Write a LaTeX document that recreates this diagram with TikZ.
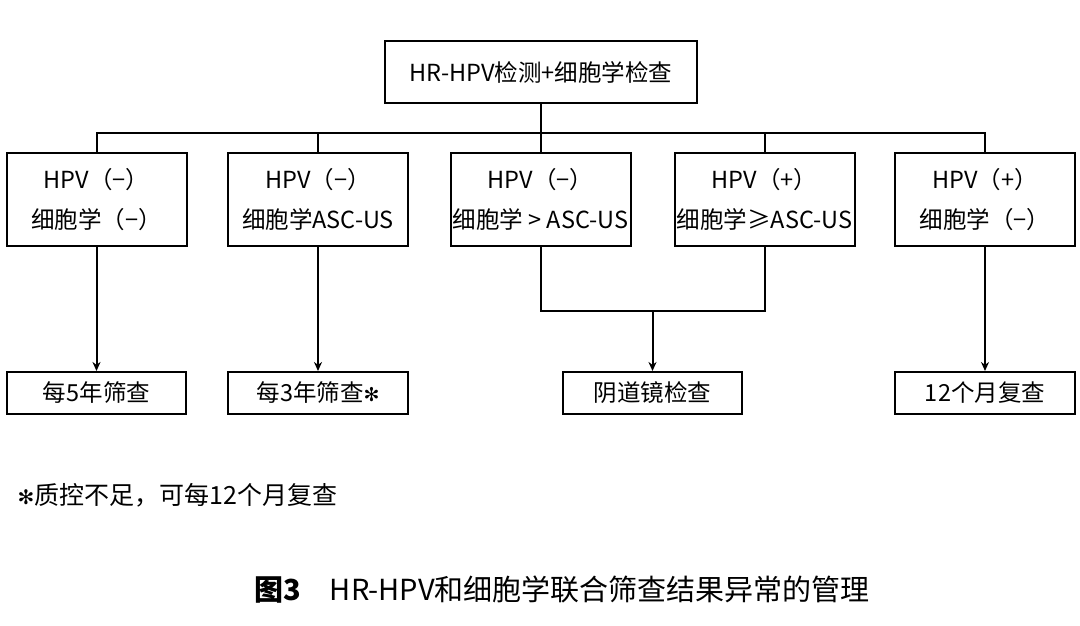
\documentclass[tikz,border=0pt]{standalone}
\usepackage{fontspec}
\setmainfont{Noto Sans CJK SC}
\newfontfamily\symf{DejaVu Sans}
\usetikzlibrary{arrows.meta}
\begin{document}
\begin{tikzpicture}[x=1pt,y=-1pt,
  bx/.style={draw,line width=2pt,inner sep=0pt,align=center,font=\fontsize{23.5}{40}\selectfont},
  ln/.style={line width=2pt},
  ar/.style={line width=2pt,-{Stealth[length=9pt,width=8pt]}}]
\useasboundingbox (0,0) rectangle (1080,626);
\node[bx,minimum width=312pt,minimum height=62pt] (top) at (541,72) {HR-HPV检测+细胞学检查};
\foreach \n/\x/\t in {b1/96.5/{HPV（−）\\细胞学（−）},b2/318/{HPV（−）\\细胞学ASC-US},b3/540.5/{HPV（−）\\细胞学 > ASC-US},b4/764.5/{HPV（+）\\细胞学≥ASC-US},b5/985/{HPV（+）\\细胞学（−）}}
  \node[bx,minimum width=180pt,minimum height=93pt] (\n) at (\x,199.5) {\t};
\node[bx,minimum width=179pt,minimum height=42pt] (c1) at (96.5,393) {每5年筛查};
\node[bx,minimum width=180pt,minimum height=42pt] (c2) at (318,393) {每3年筛查{\symf\fontsize{19}{20}\selectfont ✻}};
\node[bx,minimum width=179pt,minimum height=42pt] (c3) at (652.5,393) {阴道镜检查};
\node[bx,minimum width=180pt,minimum height=42pt] (c5) at (985,393) {12个月复查};
\coordinate (bus) at (541,133);
\draw[ln] (top.south) -- (bus);
\draw[ln] (b1.north) |- (bus) -| (b5.north);
\draw[ln] (b2.north) -- (b2.north |- bus);
\draw[ln] (b3.north) -- (b3.north |- bus);
\draw[ln] (b4.north) -- (b4.north |- bus);
\draw[ar] (b1.south) -- (c1.north);
\draw[ar] (b2.south) -- (c2.north);
\draw[ar] (b5.south) -- (c5.north);
\coordinate (j) at (652.5,311);
\draw[ln] (b3.south) |- (j) -| (b4.south);
\draw[ar] (j) -- (c3.north);
\node[anchor=west,font=\fontsize{25}{28}\selectfont] (fn) at (14,495) {{\symf\fontsize{20}{22}\selectfont ✻}质控不足，可每12个月复查};
\node[font=\fontsize{29}{32}\selectfont] (cap) at (562,590) {\textbf{图3}\quad HR-HPV和细胞学联合筛查结果异常的管理};
\end{tikzpicture}
\end{document}
